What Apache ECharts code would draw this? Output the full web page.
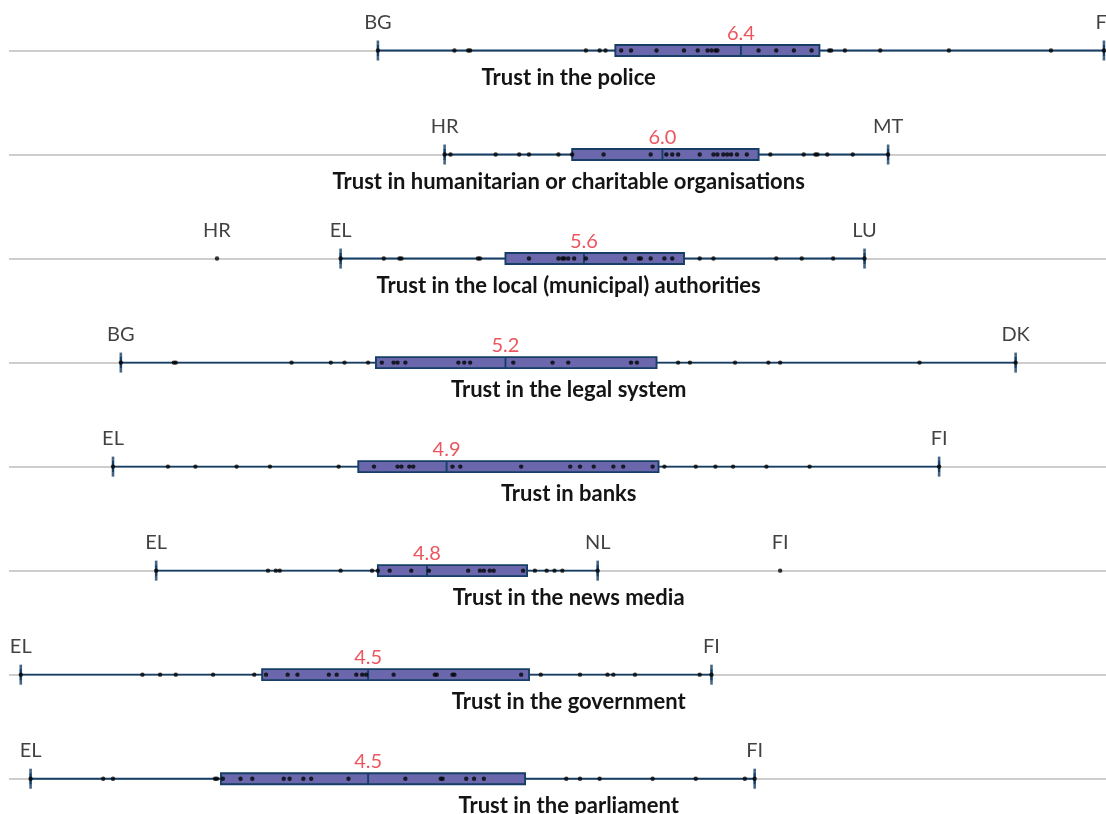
<!DOCTYPE html>
<html>
<head>
<meta charset="utf-8">
<script src="https://cdn.jsdelivr.net/npm/echarts@6/dist/echarts.min.js"></script>
<style>
  html, body { margin: 0; padding: 0; background: #ffffff; }
  #chart { width: 1106px; height: 814px; }
</style>
</head>
<body>
<div id="chart"></div>
<script>
// Trust indicators, one row each (scale 0-10, country scores)
const categories = [
  'Trust in the police',
  'Trust in humanitarian or charitable organisations',
  'Trust in the local (municipal) authorities',
  'Trust in the legal system',
  'Trust in banks',
  'Trust in the news media',
  'Trust in the government',
  'Trust in the parliament'
];

// [lower whisker, Q1, EU value, Q3, upper whisker]
const boxStats = [
  [4.55, 5.76, 6.4, 6.80, 8.25],
  [4.89, 5.54, 6.0, 6.49, 7.15],
  [4.36, 5.20, 5.6, 6.11, 7.03],
  [3.24, 4.54, 5.2, 5.97, 7.80],
  [3.20, 4.45, 4.9, 5.98, 7.41],
  [3.42, 4.55, 4.8, 5.31, 5.67],
  [2.73, 3.96, 4.5, 5.32, 6.25],
  [2.78, 3.75, 4.5, 5.30, 6.47]
];

// Country scores per indicator
const policeScores = [4.55, 4.94, 5.01, 5.02, 5.61, 5.68, 5.71, 5.79, 5.84, 5.97, 6.11, 6.18, 6.23, 6.25, 6.27, 6.28, 6.49, 6.58, 6.67, 6.76, 6.85, 6.86, 6.93, 7.11, 7.46, 7.98, 8.25];
const charityScores = [4.89, 4.92, 5.15, 5.27, 5.32, 5.47, 5.54, 5.70, 5.94, 6.02, 6.05, 6.08, 6.19, 6.26, 6.28, 6.31, 6.33, 6.35, 6.38, 6.43, 6.55, 6.72, 6.78, 6.79, 6.84, 6.97, 7.15];
const localScores = [3.73, 4.36, 4.58, 4.66, 4.67, 5.06, 5.07, 5.32, 5.47, 5.49, 5.50, 5.52, 5.55, 5.61, 5.81, 5.88, 5.89, 5.94, 6.01, 6.05, 6.19, 6.26, 6.58, 6.71, 6.87, 7.03];
const legalScores = [3.24, 3.51, 3.52, 4.11, 4.31, 4.38, 4.50, 4.57, 4.63, 4.65, 4.69, 4.96, 4.99, 5.02, 5.24, 5.44, 5.52, 5.84, 5.87, 6.08, 6.14, 6.37, 6.54, 6.60, 7.31, 7.80];
const bankScores = [3.20, 3.48, 3.62, 3.83, 4.00, 4.35, 4.53, 4.65, 4.67, 4.71, 4.73, 4.93, 4.97, 5.28, 5.53, 5.58, 5.65, 5.75, 5.80, 5.95, 6.01, 6.17, 6.27, 6.36, 6.53, 6.75, 7.41];
const mediaScores = [3.42, 3.99, 4.03, 4.05, 4.36, 4.52, 4.55, 4.61, 4.72, 4.81, 5.01, 5.07, 5.09, 5.12, 5.14, 5.29, 5.35, 5.41, 5.45, 5.49, 5.67, 6.60];
const governmentScores = [2.73, 3.35, 3.44, 3.52, 3.71, 3.92, 3.98, 4.09, 4.14, 4.30, 4.34, 4.44, 4.47, 4.49, 4.63, 4.84, 4.85, 4.93, 4.94, 5.28, 5.38, 5.58, 5.72, 5.75, 5.86, 6.19, 6.25];
const parliamentScores = [2.78, 3.15, 3.20, 3.72, 3.73, 3.76, 3.85, 3.91, 4.07, 4.10, 4.17, 4.21, 4.40, 4.69, 4.87, 4.88, 5.00, 5.04, 5.09, 5.51, 5.58, 5.68, 5.95, 6.17, 6.42, 6.47];

const countryScores = [policeScores, charityScores, localScores, legalScores, bankScores, mediaScores, governmentScores, parliamentScores];

// Countries named at the whisker ends and outliers
const namedCountries = [
  [['BG', 4.55], ['FI', 8.25]],
  [['HR', 4.89], ['MT', 7.15]],
  [['HR', 3.73], ['EL', 4.36], ['LU', 7.03]],
  [['BG', 3.24], ['DK', 7.80]],
  [['EL', 3.20], ['FI', 7.41]],
  [['EL', 3.42], ['NL', 5.67], ['FI', 6.60]],
  [['EL', 2.73], ['FI', 6.25]],
  [['EL', 2.78], ['FI', 6.47]]
];

const FONT = 'Lato, "Noto Sans", sans-serif';
const NAVY = '#153f66';

const dotData = [];
countryScores.forEach((row, i) => row.forEach(v => dotData.push([v, i])));

const capData = [];
boxStats.forEach((b, i) => { capData.push([b[0], i]); capData.push([b[4], i]); });

const medianData = boxStats.map((b, i) => [b[2], i]);

const nameData = [];
namedCountries.forEach((row, i) => row.forEach(([code, v]) => nameData.push({ value: [v, i], code: code })));

const chart = echarts.init(document.getElementById('chart'), null, { renderer: 'canvas' });

chart.setOption({
  animation: false,
  grid: { left: 9, width: 1144, top: 50.5, bottom: 35.3, outerBoundsMode: 'none', containLabel: false },
  xAxis: { type: 'value', min: 2.67, max: 8.5, show: false },
  yAxis: {
    type: 'category',
    data: categories,
    inverse: true,
    boundaryGap: false,
    axisLine: { show: false },
    axisTick: { show: false },
    splitLine: { show: true, lineStyle: { color: '#bdbdbd', width: 1.6 } },
    axisLabel: {
      interval: 0,
      hideOverlap: false,
      margin: -559.7,
      align: 'center',
      verticalAlign: 'top',
      lineHeight: 54,
      fontFamily: FONT,
      fontWeight: 'bold',
      fontSize: 22,
      color: '#141414'
    }
  },
  series: [
    {
      type: 'boxplot',
      data: boxStats,
      boxWidth: [11, 11],
      itemStyle: { color: '#6b67ad', borderColor: NAVY, borderWidth: 1.9 },
      z: 2
    },
    {
      type: 'scatter',
      data: capData,
      symbol: 'rect',
      symbolSize: [2.6, 20],
      itemStyle: { color: NAVY },
      z: 3
    },
    {
      type: 'scatter',
      data: dotData,
      symbol: 'circle',
      symbolSize: 4.4,
      itemStyle: { color: '#050505' },
      z: 4
    },
    {
      type: 'scatter',
      data: medianData,
      symbolSize: 0,
      label: {
        show: true,
        position: 'top',
        distance: 7,
        formatter: p => p.value[0].toFixed(1),
        color: '#e52a36',
        fontFamily: FONT,
        fontSize: 20
      },
      z: 5
    },
    {
      type: 'scatter',
      data: nameData,
      symbolSize: 0,
      label: {
        show: true,
        position: 'top',
        distance: 18,
        formatter: p => p.data.code,
        color: '#111111',
        fontFamily: FONT,
        fontSize: 20
      },
      z: 5
    }
  ]
});
</script>
</body>
</html>
